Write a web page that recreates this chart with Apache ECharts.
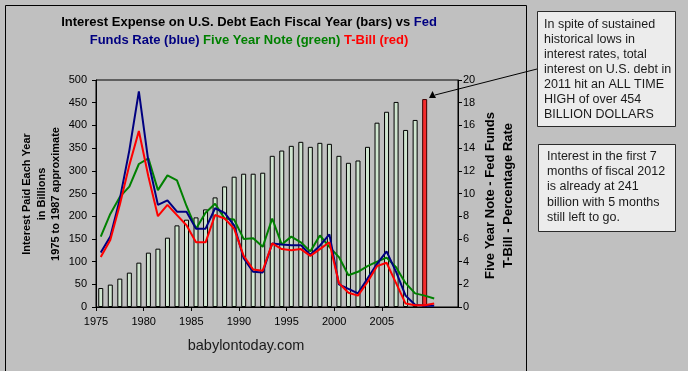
<!DOCTYPE html>
<html>
<head>
<meta charset="utf-8">
<script src="https://cdn.jsdelivr.net/npm/echarts@6/dist/echarts.min.js"></script>
<style>
html,body{margin:0;padding:0;background:#c0c0c0;}
#c{width:688px;height:371px;}
</style>
</head>
<body>
<div id="c"></div>
<script>
// Category slots (fiscal years) along the x axis
const fiscalYears = [1977,1978,1979,1980,1981,1982,1983,1984,1985,1986,1987,1988,1989,1990,1991,1992,1993,1994,1995,1996,1997,1998,1999,2000,2001,2002,2003,2004,2005,2006,2007,2008,2009,2010,2011,2012,2013,2014];
// Interest paid each year, billions (bars)
const interestBillions = [41.8,49.3,62.5,75.7,97.7,119.7,128.5,152.7,179.8,192.3,197.4,215,241.4,265.6,287,293.6,293.6,295.8,333,344.6,355,363.8,352.8,361.6,359.4,333,317.6,322.7,352.8,406,430,451.7,390,412,458];
const highlightYear = 2011;
// Rates, percent
const fedFunds = [4.8,6.2,9.5,13.8,19.0,12.8,9.0,9.4,8.4,8.4,6.9,6.9,8.7,8.3,7.2,4.3,3.1,3.05,5.6,5.5,5.45,5.45,4.6,5.4,6.4,2.0,1.6,1.2,2.5,3.8,4.9,3.1,1.0,0.2,0.1,0.1];
const fiveYearNote = [6.2,8.2,9.7,10.6,12.6,13.1,10.3,11.6,11.15,8.9,6.9,8.3,9.1,7.8,7.7,6.0,6.05,5.3,7.8,5.5,6.2,5.7,4.9,6.3,5.3,4.4,2.8,3.1,3.6,4.0,4.35,3.5,2.1,1.2,1.0,0.75];
const tBill = [4.4,5.9,9.0,12.5,15.5,11.5,8.0,9.0,8.1,7.2,5.7,5.7,8.1,7.8,6.9,4.5,3.3,3.2,5.6,5.1,5.0,5.1,4.5,5.1,5.7,2.1,1.25,1.0,2.2,3.6,3.9,2.1,0.3,0.15,0.15,0.3];
// Axis tick labels as printed
const xTickLabels = [1975,1980,1985,1990,1995,2000,2005];
const note1Lines = ["In spite of sustained","historical lows in","interest rates, total","interest on U.S. debt in","2011 hit an ALL TIME","HIGH of over 454","BILLION DOLLARS"];
const note2Lines = ["Interest in the first 7","months of fiscal 2012","is already at 241","billion with 5 months","still left to go."];

const FONT = '"Liberation Sans", Arial, sans-serif';
const chart = echarts.init(document.getElementById('c'), null, {renderer:'canvas'});

const barData = interestBillions.map((v,i)=> fiscalYears[i]===highlightYear
  ? {value:v, itemStyle:{color:'#f42c2c', borderColor:'#3a0000'}} : v);

const axisLbl = {color:'#000', fontFamily:FONT, fontSize:11};
const option = {
  backgroundColor:'#c0c0c0',
  animation:false,
  grid:{left:96, right:230, top:80, bottom:64, show:true, borderColor:'#000', borderWidth:1, backgroundColor:'transparent'},
  xAxis:[
    {type:'category', data:fiscalYears.map(String), boundaryGap:true, show:false},
    {type:'value', min:1975, max:2013, interval:5, position:'bottom',
     axisLine:{show:true, lineStyle:{color:'#000', width:1}},
     axisTick:{show:true, length:4, lineStyle:{color:'#000'}, customValues:xTickLabels},
     axisLabel:Object.assign({margin:9, customValues:xTickLabels, formatter:(v)=> xTickLabels.indexOf(v)>=0 ? String(v) : ''}, axisLbl),
     splitLine:{show:false}}
  ],
  yAxis:[
    {type:'value', min:0, max:500, interval:50, position:'left',
     axisLine:{show:true, lineStyle:{color:'#000'}},
     axisTick:{show:true, length:4, lineStyle:{color:'#000'}},
     axisLabel:Object.assign({margin:9}, axisLbl),
     splitLine:{show:false}},
    {type:'value', min:0, max:20, interval:2, position:'right',
     axisLine:{show:true, lineStyle:{color:'#000'}},
     axisTick:{show:true, length:4, lineStyle:{color:'#000'}},
     axisLabel:Object.assign({margin:5}, axisLbl),
     splitLine:{show:false}}
  ],
  series:[
    {type:'bar', xAxisIndex:0, yAxisIndex:0, data:barData, barWidth:5,
     itemStyle:{color:'#cfe5cf', borderColor:'#000', borderWidth:1}},
    {type:'line', xAxisIndex:0, yAxisIndex:1, data:fiveYearNote, showSymbol:false, lineStyle:{color:'#008000', width:2}},
    {type:'line', xAxisIndex:0, yAxisIndex:1, data:fedFunds, showSymbol:false, lineStyle:{color:'#000080', width:2}},
    {type:'line', xAxisIndex:0, yAxisIndex:1, data:tBill, showSymbol:false, lineStyle:{color:'#ff0000', width:2}}
  ],
  graphic:[
    {type:'rect', shape:{x:5.5, y:5.5, width:521, height:400}, style:{fill:null, stroke:'#000', lineWidth:1}, silent:true},
    {type:'text', x:249, y:14, style:{
      text:'{k|Interest Expense on U.S. Debt Each Fiscal Year (bars) vs }{b|Fed}\n{b|Funds Rate (blue)} {g|Five Year Note (green)} {r|T-Bill (red)}',
      align:'center', verticalAlign:'top', font:'bold 13px '+FONT, fill:'#000', lineHeight:17.5,
      rich:{k:{fill:'#000', font:'bold 13px '+FONT, lineHeight:17.5},
            b:{fill:'#000080', font:'bold 13px '+FONT, lineHeight:17.5},
            g:{fill:'#008000', font:'bold 13px '+FONT, lineHeight:17.5},
            r:{fill:'#ff0000', font:'bold 13px '+FONT, lineHeight:17.5}}}},
    {type:'text', x:41.5, y:194, rotation:Math.PI/2, style:{
      text:'Interest Paid Each Year\nin Billions\n1975 to 1987 approximate',
      align:'center', verticalAlign:'middle', font:'bold 11px '+FONT, fill:'#000', lineHeight:14.7}},
    {type:'text', x:499, y:195.5, rotation:Math.PI/2, style:{
      text:'Five Year Note - Fed Funds\nT-Bill - Percentage Rate',
      align:'center', verticalAlign:'middle', font:'bold 13px '+FONT, fill:'#000', lineHeight:18}},
    {type:'text', x:246, y:346, style:{text:'babylontoday.com', align:'center', verticalAlign:'middle', font:'14.5px '+FONT, fill:'#1a1a1a'}},
    {type:'rect', shape:{x:537.5, y:11.5, width:138, height:115}, style:{fill:'#ececec', stroke:'#2a2a2a', lineWidth:1}},
    {type:'text', x:544, y:17.5, style:{text:note1Lines.join('\n'), align:'left', verticalAlign:'top', font:'12.5px '+FONT, fill:'#1a1a1a', lineHeight:15}},
    {type:'rect', shape:{x:538.5, y:144.5, width:137, height:87}, style:{fill:'#ececec', stroke:'#2a2a2a', lineWidth:1}},
    {type:'text', x:547, y:148.5, style:{text:note2Lines.join('\n'), align:'left', verticalAlign:'top', font:'12.5px '+FONT, fill:'#1a1a1a', lineHeight:15.3}},
    {type:'line', shape:{x1:537, y1:69, x2:435, y2:95}, style:{stroke:'#000', lineWidth:1}},
    {type:'polygon', shape:{points:[[429,98],[436,98],[432.5,91]]}, style:{fill:'#000'}}
  ]
};
chart.setOption(option);
</script>
</body>
</html>
